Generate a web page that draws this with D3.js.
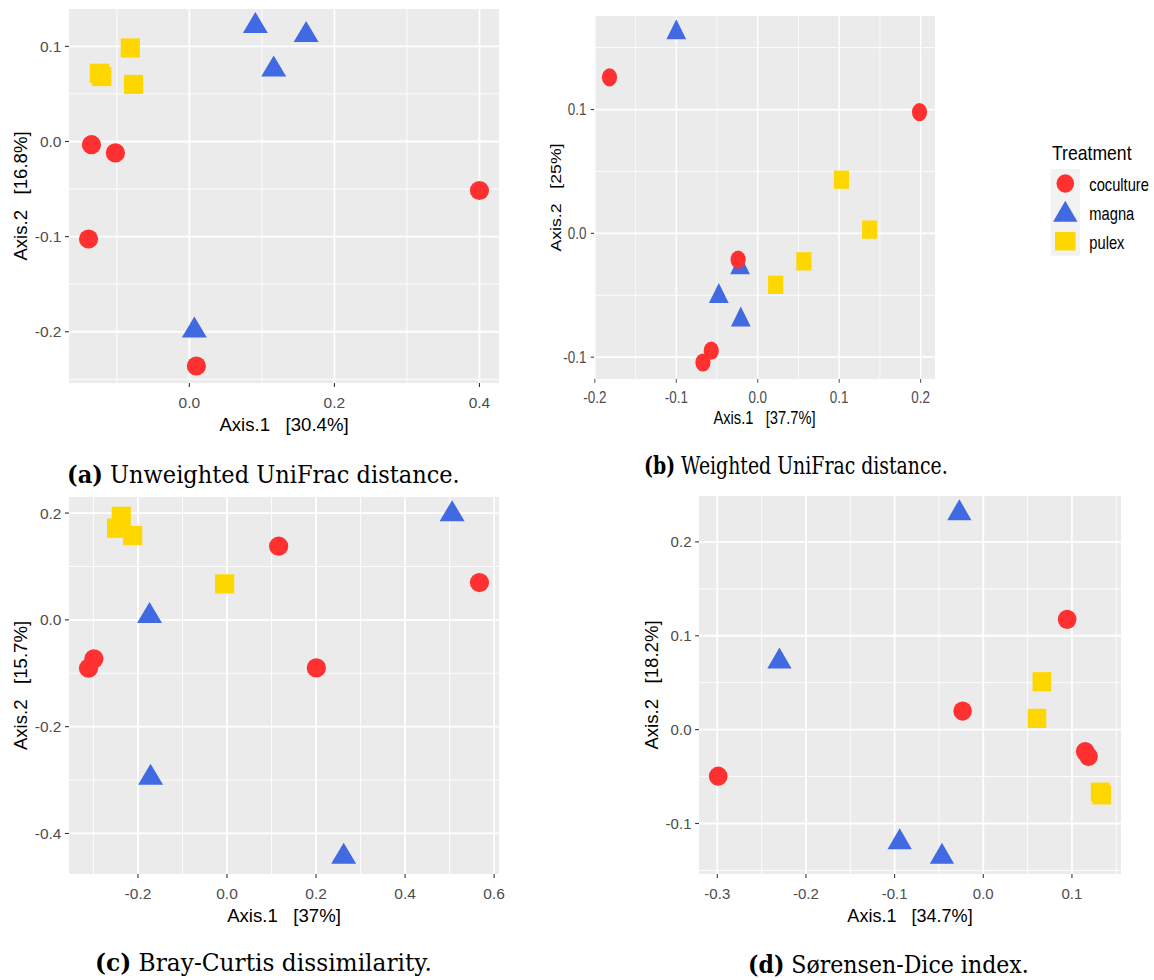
<!DOCTYPE html>
<html>
<head>
<meta charset="utf-8">
<script src="https://cdn.jsdelivr.net/npm/d3@7"></script>
<style>
  body { margin: 0; background: #fff; }
  svg { display: block; }
  text { white-space: pre; }
</style>
</head>
<body>
<svg id="fig" width="1154" height="980"></svg>
<script>
const groups = ["coculture", "magna", "pulex"];
const groupColors = ["#FF3030", "#4169E1", "#FFD700"];

// treatment of each sample, in drawing order
const sampleGroup = [
  "magna", "magna", "magna", "magna",
  "pulex", "pulex", "pulex", "pulex",
  "coculture", "coculture", "coculture", "coculture", "coculture"
];

// (a) unweighted UniFrac
const unwAxis1 = [0.091, 0.161, 0.1163, 0.0069, -0.0814, -0.124, -0.1208, -0.077, -0.135, -0.102, -0.139, 0.0097, 0.4];
const unwAxis2 = [0.1214, 0.112, 0.0756, -0.1987, 0.0983, 0.0717, 0.0683, 0.06, -0.0034, -0.012, -0.1025, -0.236, -0.0515];
const unwXTicks = [0, 0.2, 0.4];
const unwYTicks = [-0.2, -0.1, 0, 0.1];

// (b) weighted UniFrac
const wAxis1 = [-0.1, -0.0217, -0.0478, -0.0208, 0.1028, 0.1374, 0.0567, 0.022, -0.182, 0.1986, -0.0241, -0.0571, -0.0673];
const wAxis2 = [0.1622, -0.0277, -0.0508, -0.0698, 0.0433, 0.003, -0.0226, -0.0416, 0.126, 0.0979, -0.0212, -0.0948, -0.1043];
const wXTicks = [-0.2, -0.1, 0, 0.1, 0.2];
const wYTicks = [-0.1, 0, 0.1];

// (c) Bray-Curtis
const bcAxis1 = [0.5056, -0.174, -0.1717, 0.262, -0.2375, -0.248, -0.212, -0.0053, 0.116, 0.567, 0.2007, -0.299, -0.311];
const bcAxis2 = [0.198, 0.0073, -0.2955, -0.4438, 0.194, 0.1717, 0.158, 0.0674, 0.138, 0.0699, -0.0899, -0.073, -0.0905];
const bcXTicks = [-0.2, 0, 0.2, 0.4, 0.6];
const bcYTicks = [-0.4, -0.2, 0, 0.2];

// (d) Sorensen-Dice
const sdAxis1 = [-0.027, -0.2299, -0.0943, -0.0466, 0.0661, 0.0605, 0.1318, 0.1337, 0.0946, -0.0233, -0.299, 0.115, 0.1187];
const sdAxis2 = [0.2306, 0.0725, -0.12, -0.1355, 0.051, 0.012, -0.0666, -0.0695, 0.1175, 0.0198, -0.0496, -0.0234, -0.0287];
const sdXTicks = [-0.3, -0.2, -0.1, 0, 0.1];
const sdYTicks = [-0.1, 0, 0.1, 0.2];

const panels = [
  { xs: unwAxis1, ys: unwAxis2, xTicks: unwXTicks, yTicks: unwYTicks,
    xTitle: "Axis.1   [30.4%]", yTitle: "Axis.2   [16.8%]",
    left: 69, right: 499, top: 9, bottom: 383, sx: 1, sy: 1, tickSize: 15.5,
    caption: ["(a)", " Unweighted UniFrac distance."], capX: 67, capW: 393, capY: 483 },
  { xs: wAxis1, ys: wAxis2, xTicks: wXTicks, yTicks: wYTicks,
    xTitle: "Axis.1   [37.7%]", yTitle: "Axis.2   [25%]",
    left: 594, right: 935, top: 16, bottom: 379, sx: 0.79, sy: 0.95, tickSize: 17,
    caption: ["(b)", " Weighted UniFrac distance."], capX: 644, capW: 304, capY: 474 },
  { xs: bcAxis1, ys: bcAxis2, xTicks: bcXTicks, yTicks: bcYTicks,
    xTitle: "Axis.1   [37%]", yTitle: "Axis.2   [15.7%]",
    left: 69, right: 499, top: 497, bottom: 874, sx: 1, sy: 1, tickSize: 15.5,
    caption: ["(c)", " Bray-Curtis dissimilarity."], capX: 95, capW: 337, capY: 971 },
  { xs: sdAxis1, ys: sdAxis2, xTicks: sdXTicks, yTicks: sdYTicks,
    xTitle: "Axis.1   [34.7%]", yTitle: "Axis.2   [18.2%]",
    left: 699, right: 1121, top: 496, bottom: 874, sx: 0.97, sy: 1, tickSize: 15.5,
    caption: ["(d)", " Sørensen-Dice index."], capX: 748, capW: 281, capY: 973 }
];

const svg = d3.select("#fig");
const color = d3.scaleOrdinal().domain(groups).range(groupColors);
const sans = "'Liberation Sans', Arial, sans-serif";
const fmt = d => d.toFixed(1);

// marker shapes, centred on the point (triangle on its centroid like R's pch 17)
function drawMarker(g, group, x, y, sx, sy) {
  const m = g.append("g")
    .attr("transform", "translate(" + x + "," + y + ") scale(" + sx + "," + sy + ")")
    .style("fill", color(group));
  if (group === "coculture") {
    m.append("circle").attr("r", 9.6);
  } else if (group === "magna") {
    const w = 25, h = 21;
    m.append("path").attr("d", "M0," + (-2 * h / 3) + "L" + (w / 2) + "," + (h / 3) + "L" + (-w / 2) + "," + (h / 3) + "Z");
  } else {
    m.append("rect").attr("x", -9.6).attr("y", -9.6).attr("width", 19.2).attr("height", 19.2);
  }
}

// ggplot style default expansion: 5% of the data range on each side
function expanded(vals) {
  const [lo, hi] = d3.extent(vals);
  const pad = (hi - lo) * 0.05;
  return [lo - pad, hi + pad];
}

function minorOf(ticks, domain) {
  const step = ticks[1] - ticks[0];
  const out = [ticks[0] - step / 2];
  ticks.forEach(t => out.push(t + step / 2));
  return out.filter(v => v > domain[0] && v < domain[1]);
}

panels.forEach(p => {
  const g = svg.append("g");
  const xScale = d3.scaleLinear().domain(expanded(p.xs)).range([p.left, p.right]);
  const yScale = d3.scaleLinear().domain(expanded(p.ys)).range([p.bottom, p.top]);

  g.append("rect")
    .attr("x", p.left).attr("y", p.top)
    .attr("width", p.right - p.left).attr("height", p.bottom - p.top)
    .style("fill", "#EBEBEB");

  // minor grid
  minorOf(p.xTicks, xScale.domain()).forEach(v => {
    g.append("line")
      .attr("x1", xScale(v)).attr("x2", xScale(v)).attr("y1", p.top).attr("y2", p.bottom)
      .style("stroke", "#fff").style("stroke-width", 0.9 * p.sx);
  });
  minorOf(p.yTicks, yScale.domain()).forEach(v => {
    g.append("line")
      .attr("x1", p.left).attr("x2", p.right).attr("y1", yScale(v)).attr("y2", yScale(v))
      .style("stroke", "#fff").style("stroke-width", 0.9 * p.sy);
  });
  // major grid
  p.xTicks.forEach(v => {
    g.append("line")
      .attr("x1", xScale(v)).attr("x2", xScale(v)).attr("y1", p.top).attr("y2", p.bottom)
      .style("stroke", "#fff").style("stroke-width", 1.8 * p.sx);
  });
  p.yTicks.forEach(v => {
    g.append("line")
      .attr("x1", p.left).attr("x2", p.right).attr("y1", yScale(v)).attr("y2", yScale(v))
      .style("stroke", "#fff").style("stroke-width", 1.8 * p.sy);
  });

  // axes: tick marks and labels
  p.xTicks.forEach(v => {
    g.append("line")
      .attr("x1", xScale(v)).attr("x2", xScale(v)).attr("y1", p.bottom).attr("y2", p.bottom + 4 * p.sy)
      .style("stroke", "#333").style("stroke-width", 1.1 * p.sx);
    g.append("text")
      .attr("transform", "translate(" + xScale(v) + "," + (p.bottom + 19.5 * p.sy) + ") scale(" + p.sx + "," + p.sy + ")")
      .attr("text-anchor", "middle").attr("dominant-baseline", "central")
      .style("font-family", sans).style("font-size", p.tickSize + "px").style("fill", "#4D4D4D")
      .text(fmt(v));
  });
  p.yTicks.forEach(v => {
    g.append("line")
      .attr("x1", p.left - 4 * p.sx).attr("x2", p.left).attr("y1", yScale(v)).attr("y2", yScale(v))
      .style("stroke", "#333").style("stroke-width", 1.1 * p.sy);
    g.append("text")
      .attr("transform", "translate(" + (p.left - 7.5) + "," + yScale(v) + ") scale(" + p.sx + "," + p.sy + ")")
      .attr("text-anchor", "end").attr("dominant-baseline", "central")
      .style("font-family", sans).style("font-size", p.tickSize + "px").style("fill", "#4D4D4D")
      .text(fmt(v));
  });

  g.append("text")
    .attr("transform", "translate(" + ((p.left + p.right) / 2) + "," + (p.bottom + 41 * p.sy) + ") scale(" + p.sx + "," + p.sy + ")")
    .attr("text-anchor", "middle").attr("dominant-baseline", "central")
    .style("font-family", sans).style("font-size", "18.6px").style("fill", "#000")
    .text(p.xTitle);
  g.append("text")
    .attr("transform", "translate(" + (p.left - 49 * p.sx) + "," + ((p.top + p.bottom) / 2) + ") scale(" + p.sx + "," + p.sy + ") rotate(-90)")
    .attr("text-anchor", "middle").attr("dominant-baseline", "central")
    .style("font-family", sans).style("font-size", "18.6px").style("fill", "#000")
    .text(p.yTitle);

  // points
  p.xs.forEach((v, i) => {
    drawMarker(g, sampleGroup[i], xScale(v), yScale(p.ys[i]), p.sx, p.sy);
  });

  // sub caption, squeezed to the width it has in the figure
  const cap = svg.append("text")
    .style("font-family", "'DejaVu Serif', 'Liberation Serif', serif").style("font-size", "24px").style("fill", "#000");
  cap.append("tspan").style("font-weight", "bold").text(p.caption[0]);
  cap.append("tspan").text(p.caption[1]);
  const natural = cap.node().getComputedTextLength();
  cap.attr("transform", "translate(" + p.capX + "," + p.capY + ") scale(" + (p.capW / natural) + ",1)");
});

// legend for panel (b)
const legend = svg.append("g");
legend.append("text")
  .attr("transform", "translate(1052,153) scale(0.8,0.95)")
  .attr("dominant-baseline", "central")
  .style("font-family", sans).style("font-size", "22px").style("fill", "#000")
  .text("Treatment");
legend.append("rect")
  .attr("x", 1050.7).attr("y", 169).attr("width", 29.3).attr("height", 86.7)
  .style("fill", "#F2F2F2");
const keyY = d3.scaleBand().domain(groups).range([169, 255.7]);
groups.forEach(grp => {
  const cy = keyY(grp) + keyY.bandwidth() / 2;
  const k = legend.append("g")
    .attr("transform", "translate(1065.3," + cy + ")")
    .style("fill", color(grp));
  if (grp === "coculture") {
    k.append("ellipse").attr("rx", 8.8).attr("ry", 9.2);
  } else if (grp === "magna") {
    k.append("path").attr("d", "M0,-11.5L12.2,9.5L-12.2,9.5Z");
  } else {
    k.append("rect").attr("x", -10.3).attr("y", -9.2).attr("width", 20.6).attr("height", 18.4);
  }
  legend.append("text")
    .attr("transform", "translate(1089.3," + (cy + 1) + ") scale(0.79,0.95)")
    .attr("dominant-baseline", "central")
    .style("font-family", sans).style("font-size", "18.6px").style("fill", "#000")
    .text(grp);
});
</script>
</body>
</html>
